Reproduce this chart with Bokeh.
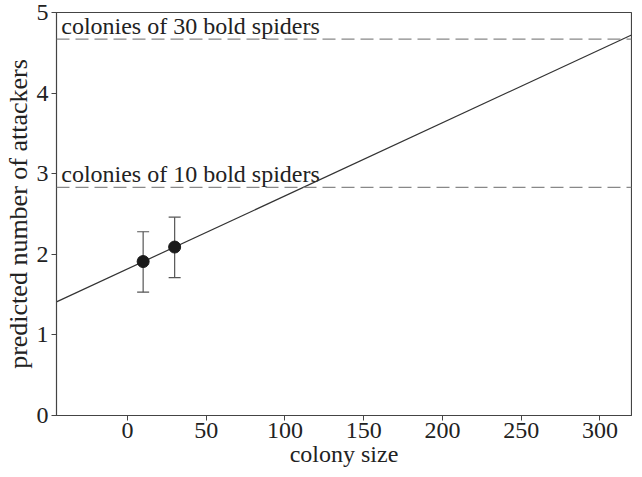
from bokeh.plotting import figure
from bokeh.models import ColumnDataSource, Whisker, TeeHead, Range1d, FixedTicker, Span
from bokeh.core.properties import value
from bokeh.embed import file_html
from bokeh.resources import INLINE

# data
colony_size = [10, 30]
predicted = [1.91, 2.09]
lower = [1.53, 1.71]
upper = [2.28, 2.46]
fit_x = [-45, 320]
fit_y = [1.41, 4.72]
ref_levels = [4.67, 2.83]
ref_labels = ["colonies of 30 bold spiders", "colonies of 10 bold spiders"]
x_ticks = [0, 50, 100, 150, 200, 250, 300]
y_ticks = [0, 1, 2, 3, 4, 5]

FONT = "Liberation Serif"
AX = "#444444"

p = figure(width=632, height=469, output_backend="svg", toolbar_location=None,
           x_range=Range1d(-45, 320), y_range=Range1d(0, 5),
           min_border_left=50, min_border_right=1, min_border_top=12, min_border_bottom=50)
p.xgrid.visible = False
p.ygrid.visible = False
p.outline_line_color = AX
p.outline_line_width = 1.2

for ax in (p.xaxis[0], p.yaxis[0]):
    ax.axis_line_color = AX
    ax.major_tick_line_color = AX
    ax.minor_tick_line_color = None
    ax.major_tick_out = 5
    ax.major_tick_in = 0
    ax.major_label_text_font = FONT
    ax.major_label_text_font_size = "24px"
    ax.major_label_text_color = "#222222"
    ax.axis_label_text_font = FONT
    ax.axis_label_text_font_size = "24px"
    ax.axis_label_text_font_style = "normal"
    ax.axis_label_text_color = "#222222"

p.yaxis.axis_label_text_font_size = "26px"
p.xaxis.ticker = FixedTicker(ticks=x_ticks)
p.yaxis.ticker = FixedTicker(ticks=y_ticks)
p.xaxis.axis_label = "colony size"
p.yaxis.axis_label = "predicted number of attackers"
p.xaxis.major_label_standoff = 2
p.yaxis.major_label_standoff = 3
p.xaxis.axis_label_standoff = 0
p.yaxis.axis_label_standoff = 1

# reference dashed lines
for lvl in ref_levels:
    p.add_layout(Span(location=lvl, dimension="width", line_color="#888888",
                      line_width=1.2, line_dash="13 6"))

p.text(x=[-42] * len(ref_levels), y=ref_levels, text=ref_labels,
       text_font=value(FONT), text_font_size="24px", text_color="#222222",
       text_baseline="bottom", text_align="left", y_offset=0)

# fitted line
p.line(fit_x, fit_y, line_color="#333333", line_width=1.2)

# error bars
src = ColumnDataSource(dict(x=colony_size, y=predicted, lower=lower, upper=upper))
w = Whisker(base="x", lower="lower", upper="upper", source=src,
            line_color="#555555", line_width=1.2,
            upper_head=TeeHead(size=12, line_color="#555555", line_width=1.2),
            lower_head=TeeHead(size=12, line_color="#555555", line_width=1.2))
p.add_layout(w)

p.scatter("x", "y", source=src, size=12, fill_color="#1a1a1a", line_color="#1a1a1a")

open("out.html", "w").write(file_html(p, INLINE))
